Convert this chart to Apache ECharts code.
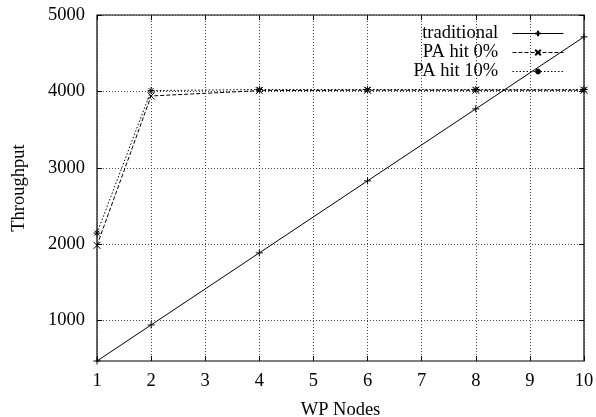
<!DOCTYPE html>
<html>
<head>
<meta charset="utf-8">
<script src="https://cdn.jsdelivr.net/npm/echarts@6/dist/echarts.min.js"></script>
<style>html,body{margin:0;padding:0;background:#fff}#c{width:596px;height:417px}</style>
</head>
<body>
<div id="c"></div>
<script>
var nodes = [1, 2, 4, 6, 8, 10];
var traditional = [471, 943, 1886, 2829, 3771, 4714];
var paHit0 = [1985, 3940, 4010, 4015, 4015, 4015];
var paHit10 = [2145, 4010, 4025, 4025, 4025, 4025];
var xTicks = [1, 2, 3, 4, 5, 6, 7, 8, 9, 10];
var yTicks = [1000, 2000, 3000, 4000, 5000];
var yMin = 471, yMax = 5000;

function pairs(v) { return nodes.map(function (n, i) { return [n, v[i]]; }); }

var FONT = 'Liberation Serif';
var FS = 18.5;
var PLUS = 'path://M0,5L10,5M5,0L5,10';
var CROSS = 'path://M0,0L10,10M10,0L0,10';
var STAR = 'path://M0,5L10,5M5,0L5,10M1.5,1.5L8.5,8.5M8.5,1.5L1.5,8.5';

var gridLine = { show: true, lineStyle: { color: '#444', width: 1, type: [1, 2] } };
var tick = { show: true, inside: true, length: 5, lineStyle: { color: '#000', width: 1 } };

var chart = echarts.init(document.getElementById('c'), null, { renderer: 'canvas' });
chart.setOption({
  animation: false,
  backgroundColor: '#fff',
  textStyle: { fontFamily: FONT, color: '#000' },
  grid: { left: 97, right: 12, top: 15, bottom: 56, show: true, borderColor: '#000', borderWidth: 1.2,
    containLabel: false, outerBoundsMode: 'none' },
  legend: {
    orient: 'vertical', right: 27, top: 19, align: 'right',
    itemWidth: 51, itemHeight: 7, itemGap: 0,
    lineStyle: { width: 1 },
    formatter: function (n) { return n + '\u2002'; },
    textStyle: { fontFamily: FONT, fontSize: FS, color: '#000', width: 140, align: 'right', lineHeight: 18 },
    data: ['traditional', 'PA hit 0%', 'PA hit 10%']
  },
  xAxis: [{
    type: 'value', min: 1, max: 10, interval: 1,
    name: 'WP Nodes', nameLocation: 'middle', nameGap: 40,
    nameTextStyle: { fontFamily: FONT, fontSize: FS, color: '#000' },
    axisLine: { show: false },
    axisTick: tick,
    axisLabel: { fontFamily: FONT, fontSize: FS, color: '#000', margin: 11, customValues: xTicks,
      formatter: function (v) { return String(v); } },
    splitLine: gridLine
  }, {
    type: 'value', min: 1, max: 10, interval: 1, position: 'top',
    axisLine: { show: false },
    axisTick: tick,
    axisLabel: { show: false }, splitLine: { show: false }
  }],
  yAxis: [{
    type: 'value', min: yMin, max: yMax,
    name: 'Throughput', nameLocation: 'middle', nameGap: 68, nameRotate: 90,
    nameTextStyle: { fontFamily: FONT, fontSize: FS, color: '#000' },
    axisLine: { show: false },
    axisTick: Object.assign({ customValues: yTicks }, tick),
    axisLabel: { fontFamily: FONT, fontSize: FS, color: '#000', margin: 12, customValues: yTicks,
      formatter: function (v) { return String(v); } },
    splitLine: gridLine
  }, {
    type: 'value', min: yMin, max: yMax, position: 'right',
    axisLine: { show: false },
    axisTick: Object.assign({ customValues: yTicks }, tick),
    axisLabel: { show: false, customValues: yTicks }, splitLine: { show: false }
  }],
  series: [{
    name: 'traditional', type: 'line', data: pairs(traditional),
    symbol: PLUS, symbolSize: 7,
    lineStyle: { color: '#000', width: 1, type: 'solid' },
    itemStyle: { color: '#000', borderColor: '#000', borderWidth: 1 }
  }, {
    name: 'PA hit 0%', type: 'line', data: pairs(paHit0),
    symbol: CROSS, symbolSize: 7,
    lineStyle: { color: '#000', width: 1, type: [4, 2] },
    itemStyle: { color: '#000', borderColor: '#000', borderWidth: 1 }
  }, {
    name: 'PA hit 10%', type: 'line', data: pairs(paHit10),
    xAxisIndex: 1, yAxisIndex: 1,
    symbol: STAR, symbolSize: 7,
    lineStyle: { color: '#000', width: 1, type: [1.5, 2] },
    itemStyle: { color: '#000', borderColor: '#000', borderWidth: 1 }
  }]
});
</script>
</body>
</html>
